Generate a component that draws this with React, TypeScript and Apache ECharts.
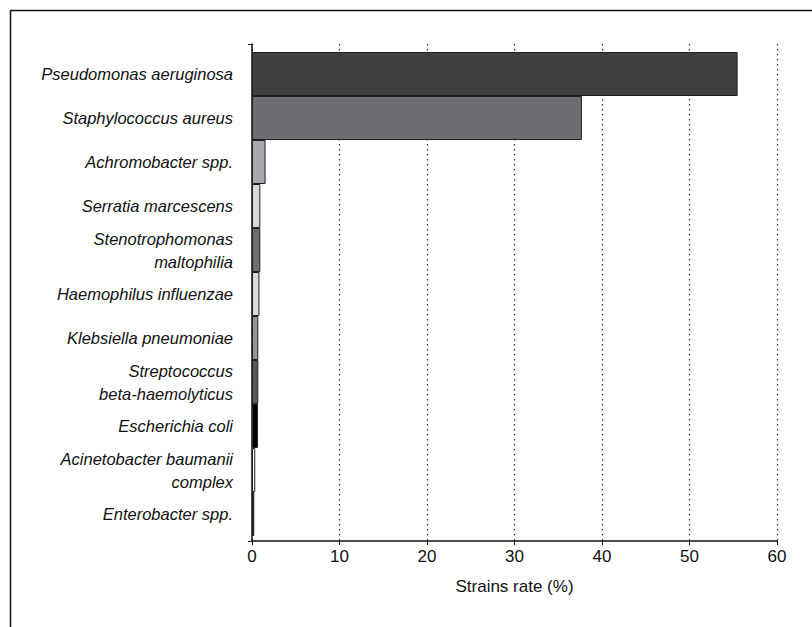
import React, { useEffect, useRef } from "react";
import * as echarts from "echarts";

const categories = [
  "Pseudomonas aeruginosa",
  "Staphylococcus aureus",
  "Achromobacter spp.",
  "Serratia marcescens",
  "Stenotrophomonas\nmaltophilia",
  "Haemophilus influenzae",
  "Klebsiella pneumoniae",
  "Streptococcus\nbeta-haemolyticus",
  "Escherichia coli",
  "Acinetobacter baumanii\ncomplex",
  "Enterobacter spp.",
];
const values = [55.5, 37.7, 1.55, 0.95, 0.95, 0.85, 0.72, 0.72, 0.68, 0.37, 0.26];
const barColors = [
  "#404041",
  "#6d6e71",
  "#a7a9ac",
  "#d7d8d9",
  "#6d6e71",
  "#d7d8d9",
  "#939598",
  "#58595b",
  "#000000",
  "#ffffff",
  "#231f20",
];
const xTicks = [0, 10, 20, 30, 40, 50, 60];

const FONT = "'Liberation Sans', Arial, sans-serif";

export default function App() {
  const ref = useRef<HTMLDivElement>(null);
  useEffect(() => {
    if (!ref.current) return;
    const chart = echarts.init(ref.current, null, { renderer: "svg" });
    chart.setOption({
      animation: false,
      backgroundColor: "#ffffff",
      graphic: [
        {
          type: "rect",
          shape: { x: 10.5, y: 10.5, width: 900, height: 700 },
          style: { fill: "none", stroke: "#111", lineWidth: 1.5 },
          silent: true,
        },
      ],
      grid: [
        { left: 252, right: 35, top: 44, bottom: 86 },
        { left: 252, right: 35, top: 52, bottom: 91 },
      ],
      xAxis: [
        {
          gridIndex: 0,
          type: "value",
          min: xTicks[0],
          max: xTicks[xTicks.length - 1],
          interval: 10,
          axisLine: { show: true, lineStyle: { color: "#111", width: 1.5 } },
          axisTick: { show: true, length: 4, lineStyle: { color: "#111", width: 1 } },
          axisLabel: { color: "#111", fontSize: 17, fontFamily: FONT, margin: 7 },
          splitLine: {
            show: true,
            lineStyle: { color: "#333", width: 1.2, type: [1.5, 3.5] },
          },
          name: "Strains rate (%)",
          nameLocation: "middle",
          nameGap: 37,
          nameTextStyle: { color: "#111", fontSize: 17, fontFamily: FONT },
        },
        {
          gridIndex: 1,
          type: "value",
          min: 0,
          max: 60,
          show: false,
        },
      ],
      yAxis: [
        {
          gridIndex: 0,
          type: "value",
          min: 0,
          max: 1,
          interval: 1,
          axisLine: { show: true, lineStyle: { color: "#111", width: 1.5 } },
          axisTick: { show: true, length: 4, lineStyle: { color: "#111", width: 1 } },
          axisLabel: { show: false },
          splitLine: { show: false },
        },
        {
          gridIndex: 1,
          type: "category",
          inverse: true,
          data: categories,
          axisLine: { show: false },
          axisTick: { show: false },
          axisLabel: {
            color: "#111",
            fontSize: 16.5,
            fontStyle: "italic",
            fontFamily: FONT,
            margin: 19,
            lineHeight: 23,
            align: "right",
          },
          splitLine: { show: false },
        },
      ],
      series: [
        {
          type: "bar",
          xAxisIndex: 1,
          yAxisIndex: 1,
          barCategoryGap: 0,
          data: values.map((v, i) => ({
            value: v,
            itemStyle: { color: barColors[i], borderColor: "#231f20", borderWidth: 1 },
          })),
        },
      ],
    });
    return () => chart.dispose();
  }, []);
  return (
    <div
      ref={ref}
      style={{ position: "absolute", left: 0, top: 0, width: 812, height: 627 }}
    />
  );
}
